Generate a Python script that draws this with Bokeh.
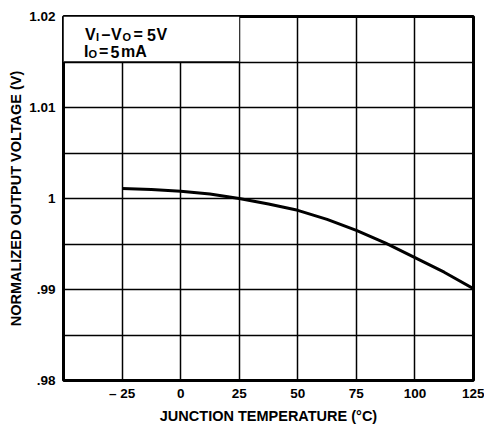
from bokeh.plotting import figure
from bokeh.models import FixedTicker, Label, Range1d
from bokeh.embed import file_html
from bokeh.resources import INLINE

# ---- data ----
temp_c = [-25, -12.5, 0, 12.5, 25, 37.5, 50, 62.5, 75, 87.5, 100, 112.5, 125]
norm_vout = [1.0011, 1.0010, 1.0008, 1.0005, 1.0000, 0.9994, 0.9987,
             0.9977, 0.9965, 0.9951, 0.9935, 0.9919, 0.9901]

x_ticks = [-25, 0, 25, 50, 75, 100, 125]
x_tick_labels = ["\u2013 25", "0", "25", "50", "75", "100", "125"]
x_grid = [-50, -25, 0, 25, 50, 75, 100, 125]
y_ticks = [0.98, 0.99, 1.0, 1.01, 1.02]
y_tick_labels = [".98", ".99", "1", "1.01", "1.02"]
y_grid = [0.98, 0.985, 0.99, 0.995, 1.0, 1.005, 1.01, 1.015, 1.02]

X0, X1 = -50, 125
Y0, Y1 = 0.98, 1.02

FONT = "Liberation Sans"

LEFT, TOP, RIGHT, BOTTOM = 63, 16, 473, 380
W, H = 484, 426

p = figure(width=W, height=H, output_backend="svg", toolbar_location=None,
           x_range=Range1d(X0, X1), y_range=Range1d(Y0, Y1),
           min_border_left=LEFT, min_border_right=W - RIGHT,
           min_border_top=TOP, min_border_bottom=H - BOTTOM)
p.background_fill_color = "white"
p.border_fill_color = "white"
p.outline_line_color = "black"
p.outline_line_width = 3

# grids
p.xgrid.ticker = FixedTicker(ticks=x_grid)
p.ygrid.ticker = FixedTicker(ticks=y_grid)
for g in (p.xgrid, p.ygrid):
    g.grid_line_color = "black"
    g.grid_line_width = 1.5
    g.grid_line_alpha = 1.0

# axes
p.xaxis.ticker = FixedTicker(ticks=x_ticks)
p.xaxis.major_label_overrides = {t: l for t, l in zip(x_ticks, x_tick_labels)}
p.yaxis.ticker = FixedTicker(ticks=y_ticks)
p.yaxis.major_label_overrides = {t: l for t, l in zip(y_ticks, y_tick_labels)}
for ax in (p.xaxis, p.yaxis):
    ax.axis_line_color = None
    ax.major_tick_line_color = None
    ax.minor_tick_line_color = None
    ax.major_tick_in = 0
    ax.major_tick_out = 0
    ax.major_label_text_font = FONT
    ax.major_label_text_font_style = "bold"
    ax.major_label_text_font_size = "13.5px"
    ax.major_label_text_color = "black"
    ax.axis_label_text_font = FONT
    ax.axis_label_text_font_style = "bold"
    ax.axis_label_text_font_size = "14.5px"
    ax.axis_label_text_color = "black"
p.xaxis.axis_label = "JUNCTION TEMPERATURE (\u00b0C)"
p.yaxis.axis_label = "NORMALIZED OUTPUT VOLTAGE (V)"
p.xaxis.major_label_standoff = 5
p.xaxis.axis_label_standoff = 4
p.yaxis.major_label_standoff = 8
p.yaxis.axis_label_standoff = 2

# white box behind the conditions text
p.quad(left=[X0], right=[25], bottom=[1.015], top=[Y1],
       fill_color="white", line_color=None)
p.line(x=[X0, 25], y=[1.015, 1.015], line_color="black", line_width=1.5)

# curve
p.line(x=temp_c, y=norm_vout, line_color="black", line_width=3)

# conditions text, positioned by page pixel
FW = float(RIGHT - LEFT)
FH = float(BOTTOM - TOP)


def dx(xp):
    return X0 + (xp - LEFT) * (X1 - X0) / FW


def dy(yp):
    return Y1 - (yp - TOP) * (Y1 - Y0) / FH


pieces = [
    # text, page x, page baseline y, size
    ("V", 84.5, 34, 16), ("I", 95.5, 36, 11), ("\u2013", 101, 34, 16),
    ("V", 110.5, 34, 16), ("O", 122, 36, 11), ("=", 133, 34, 16),
    ("5", 146.5, 34, 16), ("V", 156, 34, 16),
    ("I", 83.5, 51, 16), ("O", 88, 53.5, 11), ("=", 98.5, 51, 16),
    ("5", 110, 51, 16), ("mA", 120.5, 51, 16),
]
for txt, xp, yp, sz in pieces:
    p.add_layout(Label(x=dx(xp), y=dy(yp), text=txt, text_font=FONT,
                       text_font_style="bold", text_font_size=f"{sz}px",
                       text_color="black", text_align="left",
                       text_baseline="alphabetic"))

open("out.html", "w").write(file_html(p, INLINE))
